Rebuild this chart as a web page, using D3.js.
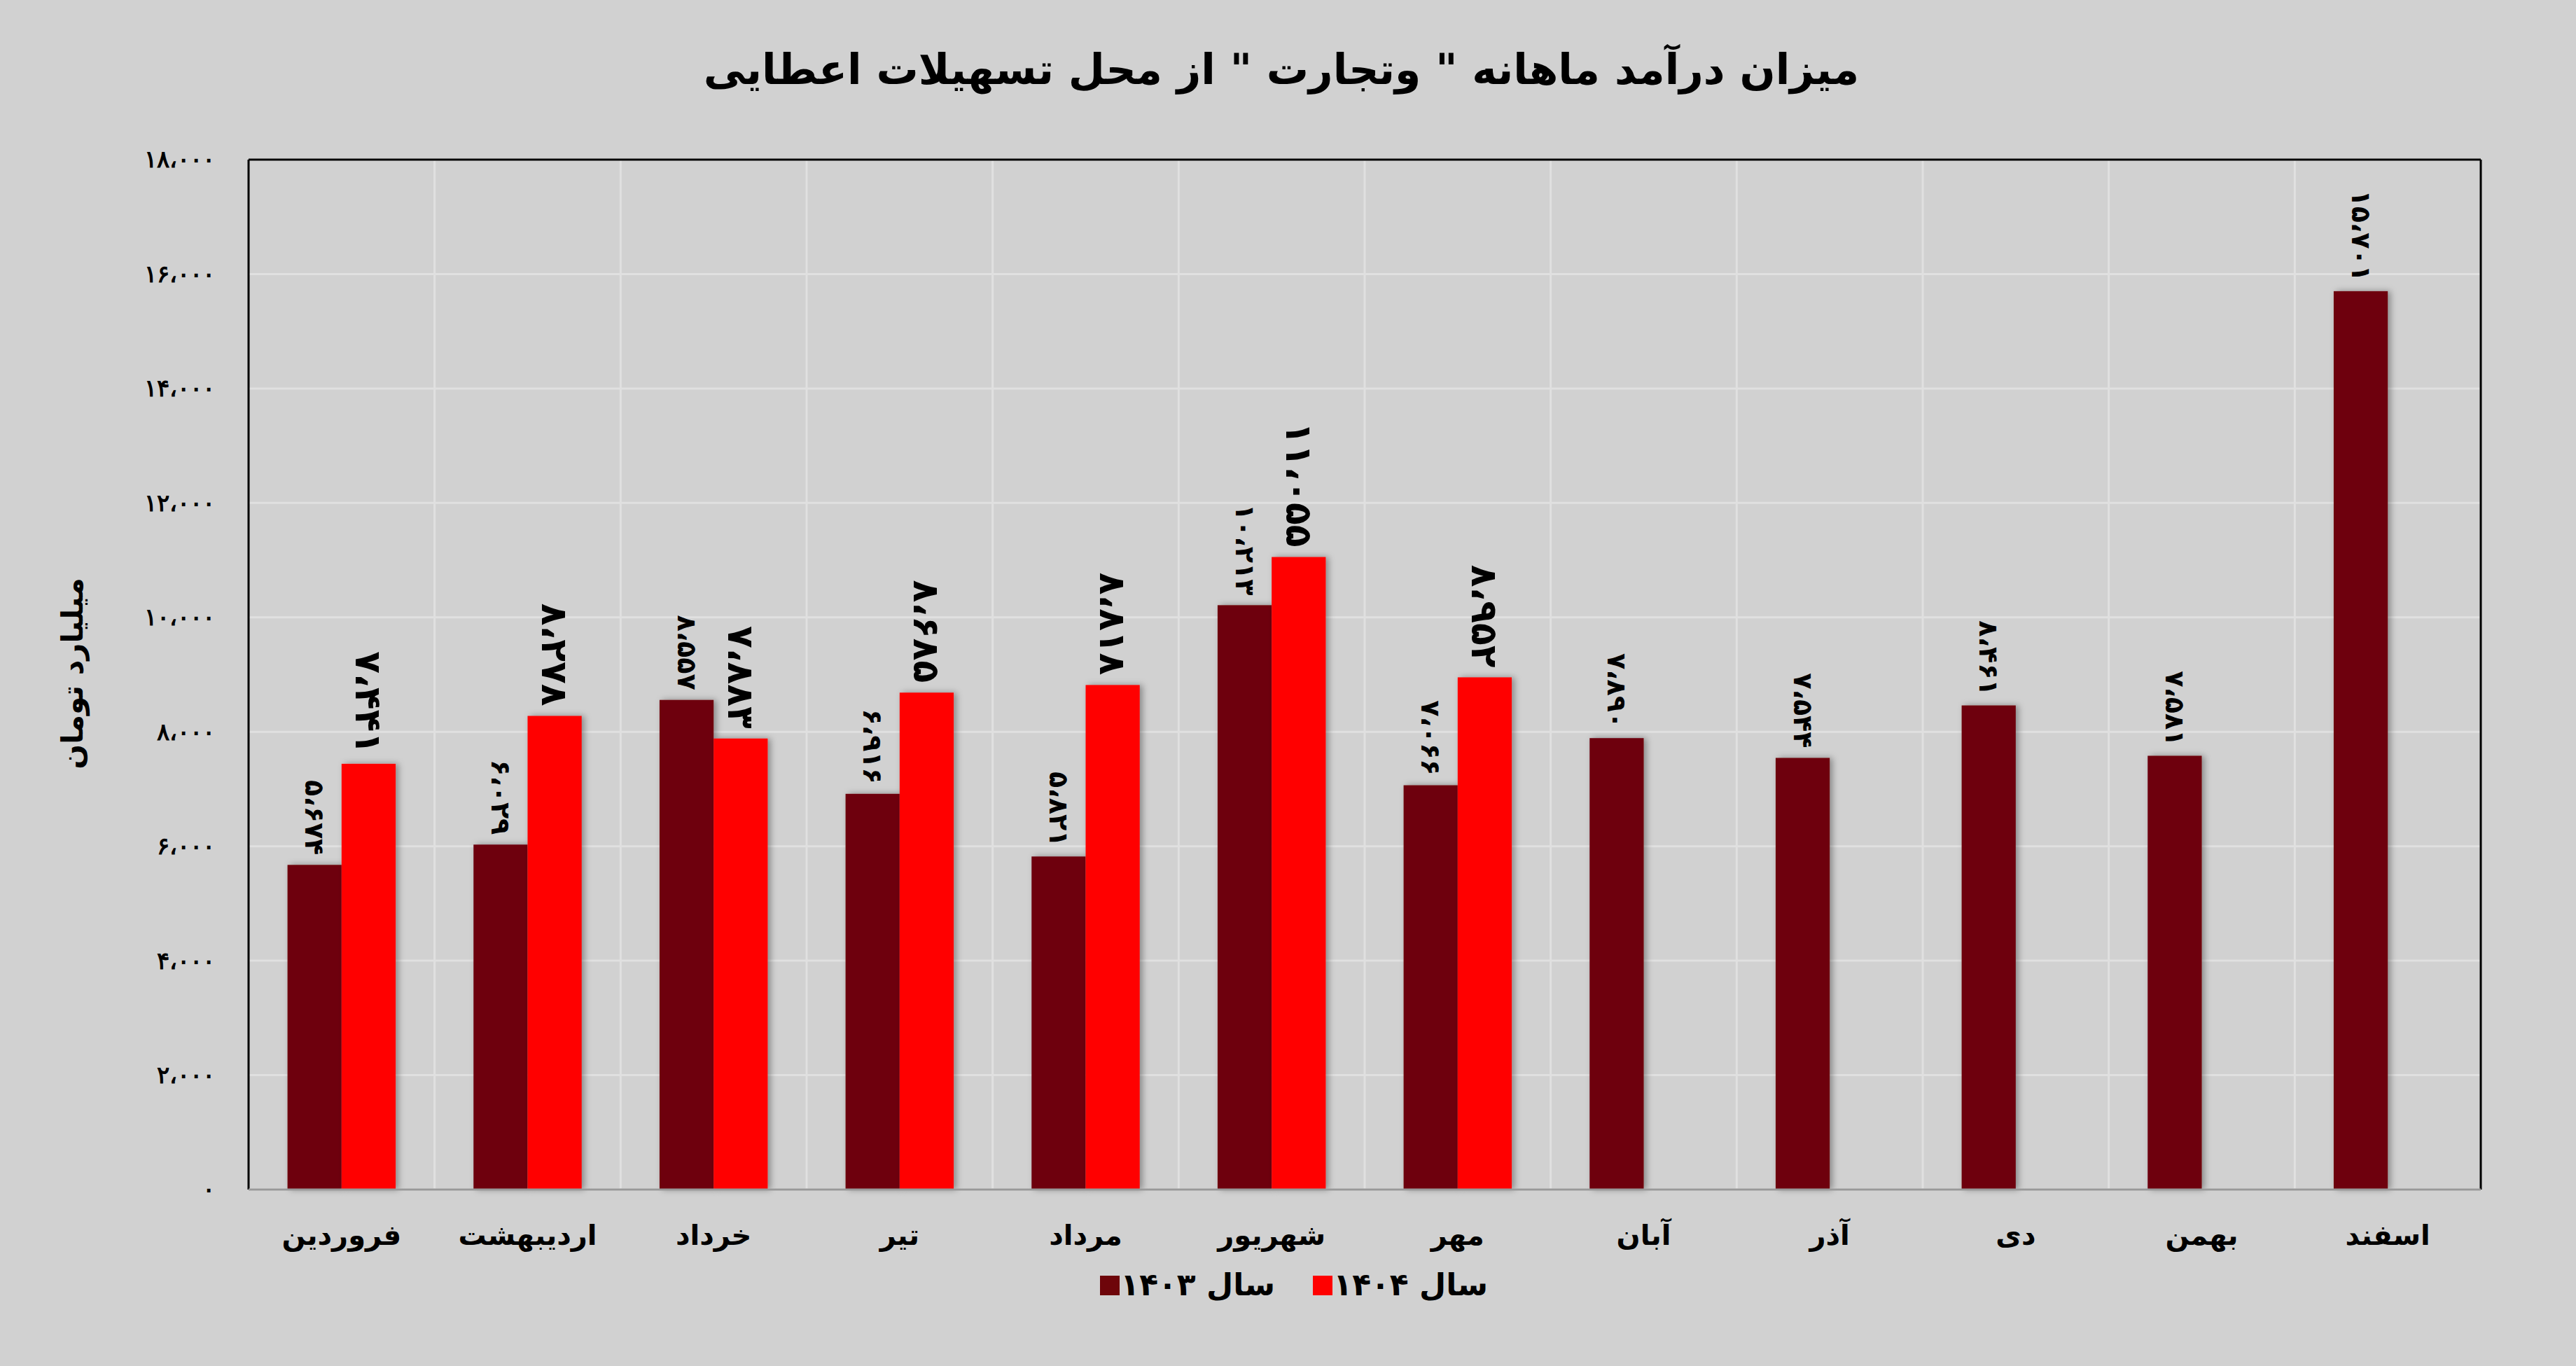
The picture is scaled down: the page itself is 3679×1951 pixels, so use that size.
<!DOCTYPE html>
<html><head><meta charset="utf-8">
<script src="https://cdn.jsdelivr.net/npm/d3@7"></script>
<style>body{margin:0;background:#d1d1d1;}svg{display:block;font-family:"DejaVu Sans",sans-serif;}</style>
</head><body>
<div id="chart"></div>
<script>
var months = ["فروردین","اردیبهشت","خرداد","تیر","مرداد","شهریور","مهر","آبان","آذر","دی","بهمن","اسفند"];
var values1403 = [5674,6029,8557,6916,5821,10213,7066,7890,7544,8461,7581,15701];
var values1404 = [7441,8278,7883,8685,8818,11055,8952,null,null,null,null,null];
var yTicks = [0,2000,4000,6000,8000,10000,12000,14000,16000,18000];
var seriesNames = ["سال ۱۴۰۳","سال ۱۴۰۴"];
var colors = ["#6e050a","#ff0000"];

function fa(n){
    var s = d3.format(",")(n).replace(/,/g,"،");
    return s.replace(/[0-9]/g, d => "۰۱۲۳۴۵۶۷۸۹"[+d]);
}

var width = 3679, height = 1951;
var margins = {"left":355,"right":136,"top":228,"bottom":252};

var svg = d3.select("#chart").append("svg").attr("width",width).attr("height",height);
svg.append("rect").attr("width",width).attr("height",height).attr("fill","#d1d1d1");

var defs = svg.append("defs");
var f = defs.append("filter").attr("id","shadow").attr("x","-20%").attr("width","140%");
f.append("feDropShadow").attr("dx",4).attr("dy",0).attr("stdDeviation",5).attr("flood-color","#000").attr("flood-opacity",0.35);

var x0 = d3.scaleBand().domain(months).range([margins.left,width-margins.right]);
var x1 = d3.scaleBand().domain([0,1]).range([0,x0.bandwidth()]).paddingOuter(0.72).paddingInner(0);
var y = d3.scaleLinear().domain([0,18000]).range([height-margins.bottom,margins.top]);

// grid
svg.append("g").selectAll("line.h").data(yTicks).enter().append("line")
    .attr("x1",margins.left).attr("x2",width-margins.right)
    .attr("y1",d => y(d)).attr("y2",d => y(d))
    .attr("stroke","#e0e0e0").attr("stroke-width",3);
svg.append("g").selectAll("line.v").data(months.slice(1)).enter().append("line")
    .attr("x1",d => x0(d)).attr("x2",d => x0(d))
    .attr("y1",margins.top).attr("y2",height-margins.bottom)
    .attr("stroke","#e0e0e0").attr("stroke-width",3);

// frame
svg.append("line").attr("x1",margins.left).attr("x2",width-margins.right)
    .attr("y1",margins.top).attr("y2",margins.top).attr("stroke","#000").attr("stroke-width",3);
svg.append("line").attr("x1",margins.left).attr("x2",margins.left)
    .attr("y1",margins.top).attr("y2",height-margins.bottom).attr("stroke","#000").attr("stroke-width",3);
svg.append("line").attr("x1",width-margins.right).attr("x2",width-margins.right)
    .attr("y1",margins.top).attr("y2",height-margins.bottom).attr("stroke","#000").attr("stroke-width",3);

// y axis
var yAxis = d3.axisLeft(y).tickValues(yTicks).tickSize(0).tickPadding(48).tickFormat(fa);
var yg = svg.append("g").attr("transform","translate(" + margins.left + ",0)").call(yAxis);
yg.select(".domain").remove();
yg.selectAll("text").attr("font-size",34).attr("font-weight","bold").attr("fill","#000");

// bars
var series = [values1403, values1404];
series.forEach(function(vals,i){
    var data = months.map((m,j) => ({m:m, v:vals[j]})).filter(d => d.v !== null);
    svg.append("g").selectAll("rect").data(data).enter().append("rect")
        .attr("x",d => x0(d.m) + x1(i))
        .attr("width",x1.bandwidth())
        .attr("y",d => y(d.v))
        .attr("height",d => y(0) - y(d.v))
        .attr("fill",colors[i])
        .attr("filter","url(#shadow)");
    svg.append("g").selectAll("text").data(data).enter().append("text")
        .attr("transform",d => "translate(" + (x0(d.m) + x1(i) + x1.bandwidth()/2) + "," + (y(d.v) - 14) + ") rotate(90)")
        .attr("text-anchor","end")
        .attr("dominant-baseline","central")
        .attr("direction","ltr")
        .attr("font-size",i === 0 ? 38 : 52)
        .attr("font-weight","bold")
        .attr("fill","#000")
        .text(d => fa(d.v));
});

// bottom line
svg.append("line").attr("x1",margins.left).attr("x2",width-margins.right)
    .attr("y1",y(0)).attr("y2",y(0)).attr("stroke","#999").attr("stroke-width",3);

// x labels
svg.append("g").selectAll("text").data(months).enter().append("text")
    .attr("x",d => x0(d) + x0.bandwidth()/2)
    .attr("y",1778)
    .attr("text-anchor","middle")
    .attr("font-size",40).attr("font-weight","bold").attr("fill","#000")
    .text(d => d);

// title
svg.append("text").attr("x",1830).attr("y",120).attr("text-anchor","middle")
    .attr("font-size",60).attr("font-weight","bold").attr("fill","#000")
    .text('میزان درآمد ماهانه " وتجارت " از محل تسهیلات اعطایی');

// y label
svg.append("text").attr("transform","translate(118,962) rotate(-90)")
    .attr("text-anchor","middle").attr("font-size",42).attr("font-weight","bold").attr("fill","#000")
    .text("میلیارد تومان");

// legend
var legendX = [1571,1875];
seriesNames.forEach(function(name,i){
    svg.append("rect").attr("x",legendX[i]).attr("y",1822).attr("width",28).attr("height",28).attr("fill",colors[i]);
    svg.append("text").attr("x",legendX[i] + 250).attr("y",1850)
        .attr("text-anchor","end").attr("font-size",44).attr("font-weight","bold").attr("fill","#000")
        .text(name);
});
</script>
</body></html>
